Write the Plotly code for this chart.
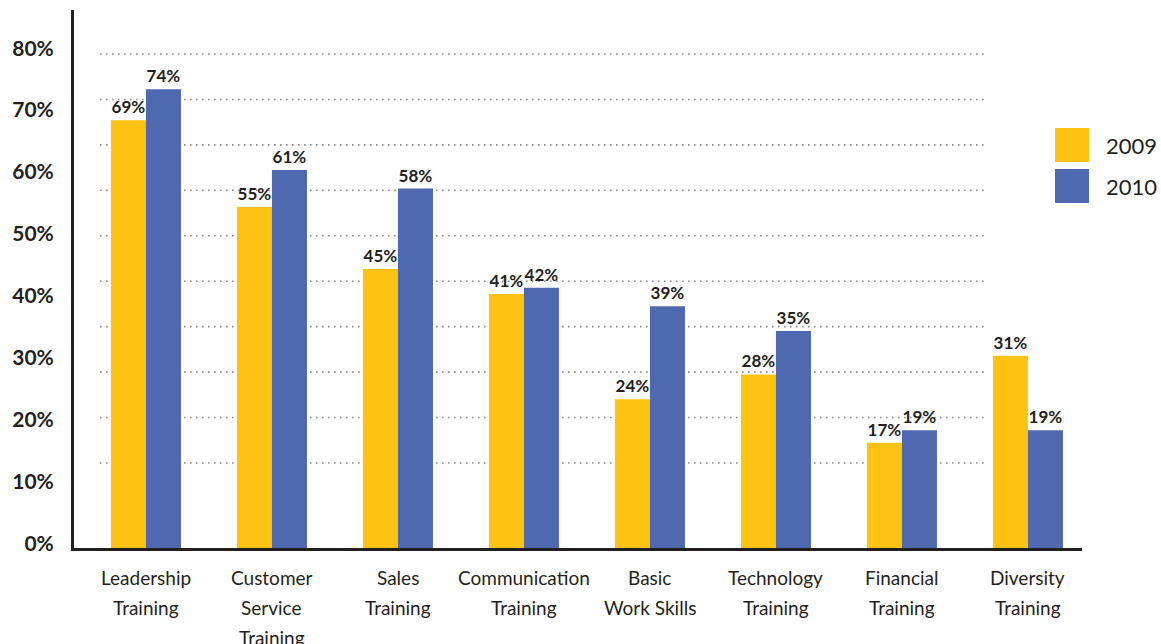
import plotly.graph_objects as go

# Training programmes and the share of organisations investing in each
categories = [
    "Leadership<br>Training",
    "Customer<br>Service<br>Training",
    "Sales<br>Training",
    "Communication<br>Training",
    "Basic<br>Work Skills",
    "Technology<br>Training",
    "Financial<br>Training",
    "Diversity<br>Training",
]
series_names = ["2009", "2010"]
values_2009 = [69, 55, 45, 41, 24, 28, 17, 31]
values_2010 = [74, 61, 58, 42, 39, 35, 19, 19]
y_tick_values = [0, 10, 20, 30, 40, 50, 60, 70, 80]
y_tick_labels = ["0%", "10%", "20%", "30%", "40%", "50%", "60%", "70%", "80%"]

YELLOW = "#FDC212"
BLUE = "#4F69B0"
INK = "#231F20"

# plot area in pixels (used to place the hand-drawn legend and labels)
PX_L, PX_R, PX_T, PX_B = 74, 1082, 10, 548


def px_x(px):
    return (px - PX_L) / (PX_R - PX_L)


def px_y(px):
    return (PX_B - px) / (PX_B - PX_T)


fig = go.Figure()
for name, vals, colour in [
    (series_names[0], values_2009, YELLOW),
    (series_names[1], values_2010, BLUE),
]:
    fig.add_trace(go.Bar(
        name=name,
        x=list(range(len(categories))),
        y=vals,
        marker=dict(color=colour, line=dict(width=0)),
        text=[f"{v}%" for v in vals],
        textposition="outside",
        textfont=dict(family="Lato", size=17, color=INK, weight="bold"),
        cliponaxis=False,
        showlegend=False,
    ))

# decorative dotted guide lines behind the bars
for k in range(10):
    yp = px_y(54 + 45.44 * k)
    fig.add_shape(type="line", xref="paper", yref="paper",
                  x0=px_x(100), x1=px_x(985), y0=yp, y1=yp,
                  line=dict(color="#8C8C8C", width=1.6, dash="1.6px,4.4px"),
                  layer="below")

# category names below the axis, one line at a time for wider line spacing
for i, label in enumerate(categories):
    for j, line in enumerate(label.split("<br>")):
        fig.add_annotation(xref="x", yref="paper", x=i, y=px_y(577 + 30 * j),
                           xanchor="center", yanchor="middle", showarrow=False,
                           text=line, font=dict(family="Lato", size=19, color=INK))

# legend swatches and labels
for i, (name, colour) in enumerate([(series_names[0], YELLOW), (series_names[1], BLUE)]):
    top = 128 + i * 41
    fig.add_shape(type="rect", xref="paper", yref="paper",
                  x0=px_x(1055), x1=px_x(1089),
                  y0=px_y(top), y1=px_y(top + 34),
                  fillcolor=colour, line=dict(width=0))
    fig.add_annotation(xref="paper", yref="paper",
                       x=px_x(1104), y=px_y(top + 17),
                       xanchor="left", yanchor="middle", showarrow=False,
                       text=name, font=dict(family="Lato", size=22, color=INK))

fig.update_layout(
    width=1161, height=644,
    margin=dict(l=PX_L, r=1161 - PX_R, t=PX_T, b=644 - PX_B),
    paper_bgcolor="white", plot_bgcolor="white",
    barmode="group", bargap=0.444, bargroupgap=0,
    xaxis=dict(
        range=[-0.571, 7.429],
        tickmode="array",
        tickvals=list(range(len(categories))),
        showticklabels=False,
        showgrid=False, zeroline=False,
        showline=True, linecolor=INK, linewidth=3,
        ticks="",
    ),
    yaxis=dict(
        range=[0, 86.8],
        tickmode="array",
        tickvals=y_tick_values,
        ticktext=y_tick_labels,
        tickfont=dict(family="Lato", size=21, color=INK, weight="bold"),
        showgrid=False, zeroline=False,
        showline=True, linecolor=INK, linewidth=3,
        ticks="", ticklabelstandoff=13, ticklabelshift=-4,
    ),
)

fig.write_html("out.html")
